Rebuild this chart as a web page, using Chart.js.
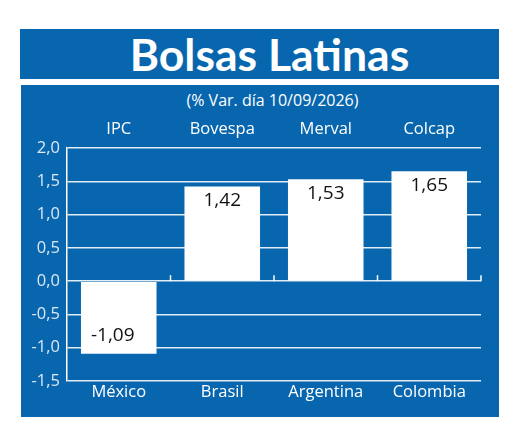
<!DOCTYPE html>
<html>
<head>
<meta charset="utf-8">
<script src="https://cdn.jsdelivr.net/npm/chart.js@4"></script>
<style>
body{margin:0;background:#fff;width:520px;height:440px;position:relative;overflow:hidden;font-family:"Open Sans",sans-serif}
.band{position:absolute;background:#0866ae;color:#fff}
#title{left:20px;top:29px;width:479px;height:50px;text-align:center;font-family:Lato,sans-serif;font-weight:700;font-size:44.5px;line-height:50px;padding-left:20px;box-sizing:border-box}
#panel{left:21px;top:85px;width:478px;height:332px}
#sub{position:absolute;left:0;width:520px;top:89px;text-align:center;color:#fff;font-size:16px;line-height:22px;padding-left:25px;box-sizing:border-box}
#c{position:absolute;left:0;top:0}
</style>
</head>
<body>
<div class="band" id="title">Bolsas Latinas</div>
<div class="band" id="panel"></div>
<div id="sub">(% Var. día 10/09/2026)</div>
<canvas id="c" width="520" height="440"></canvas>
<script>
const countries=['México','Brasil','Argentina','Colombia'];
const indices=['IPC','Bovespa','Merval','Colcap'];
const variation=[-1.09,1.42,1.53,1.65];
const yMin=-1.5, yMax=2.0, yStep=0.5;

function comma(v,d){return v.toFixed(d).replace('.',',')}

const valueLabels={
  id:'valueLabels',
  afterDatasetsDraw(chart){
    const ctx=chart.ctx;
    ctx.save();
    ctx.font='19px "Open Sans"';ctx.fillStyle='#111';ctx.textAlign='center';ctx.textBaseline='middle';
    chart.getDatasetMeta(0).data.forEach((bar,i)=>{
      const v=variation[i];
      ctx.fillText(comma(v,2),v>=0?bar.x:bar.x-6,v>=0?bar.y+14:bar.y-18);
    });
    ctx.restore();
  }
};
const zeroTicks={
  id:'zeroTicks',
  afterDatasetsDraw(chart){
    const {ctx,scales:{x,y}}=chart;const y0=y.getPixelForValue(0);
    ctx.save();ctx.strokeStyle='#fff';ctx.lineWidth=1.5;
    for(let i=0;i<countries.length;i++){const xb=x.getPixelForValue(i+0.5);ctx.beginPath();ctx.moveTo(xb,y0);ctx.lineTo(xb,y0-6);ctx.stroke();}
    ctx.restore();
  }
};

new Chart(document.getElementById('c'),{
  type:'bar',
  data:{labels:countries,datasets:[{data:variation,backgroundColor:'#fff',borderWidth:0,barPercentage:0.73,categoryPercentage:1}]},
  options:{
    responsive:false,animation:false,
    layout:{padding:{left:0,right:39,top:0,bottom:0}},
    plugins:{legend:{display:false},tooltip:{enabled:false}},
    scales:{
      x:{position:'bottom',grid:{display:false,drawTicks:false},border:{display:false},
        ticks:{color:'#fff',font:{family:'"Open Sans"',size:16.5},padding:1,maxRotation:0},
        afterFit(s){s.height=59}},
      x2:{type:'category',labels:indices,position:'top',grid:{display:false,drawTicks:false},border:{display:false},
        ticks:{color:'#fff',font:{family:'"Open Sans"',size:16.5},padding:9,maxRotation:0},
        afterFit(s){s.height=148}},
      y:{min:yMin,max:yMax,grid:{color:'rgba(255,255,255,0.88)',lineWidth:1.5,drawTicks:false},
        border:{color:'#fff',width:1.5},
        ticks:{stepSize:yStep,color:'#dde8f4',font:{family:'"Open Sans"',size:16.5},padding:7,callback:v=>comma(v,1)},
        afterFit(s){s.width=67}}
    }
  },
  plugins:[valueLabels,zeroTicks]
});
</script>
</body>
</html>
